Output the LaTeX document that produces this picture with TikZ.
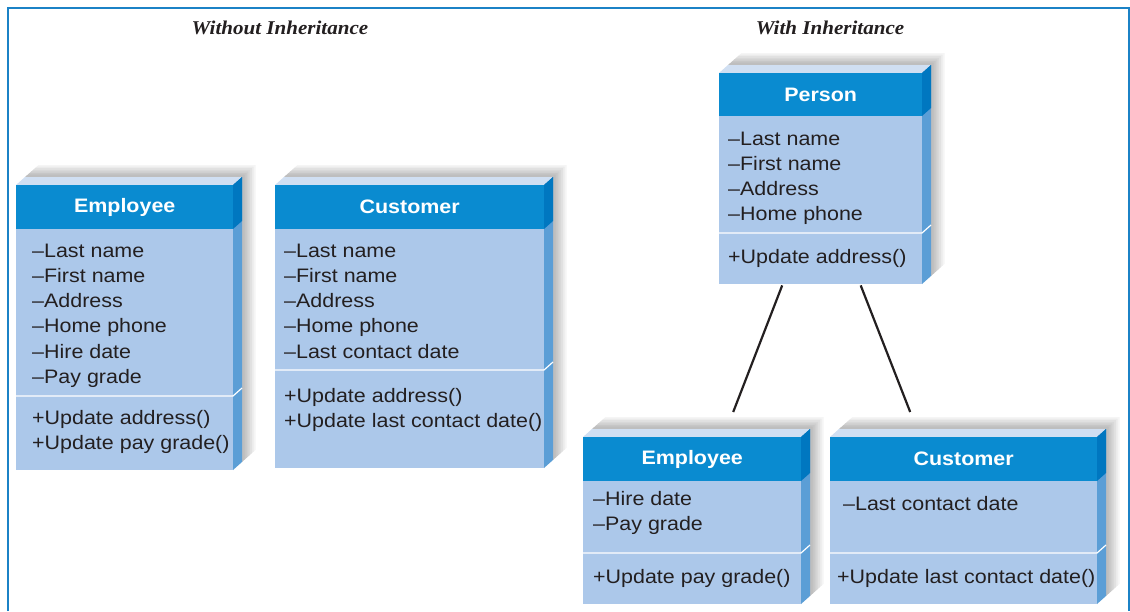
\documentclass[tikz,border=0pt]{standalone}
\usepackage{fontspec}
\setmainfont[FakeStretch=1.1]{Liberation Sans}
\newfontfamily\titlefont[FakeStretch=1.08]{Liberation Serif}
\usetikzlibrary{calc}
\definecolor{hdr}{HTML}{0A8BD0}
\definecolor{hdrside}{HTML}{0077C0}
\definecolor{bodyc}{HTML}{ACC8EA}
\definecolor{bodyside}{HTML}{5B9ED6}
\definecolor{topface}{HTML}{D0DFF2}
\definecolor{framec}{HTML}{1B82C6}
\definecolor{ink}{HTML}{231F20}
\newcommand\umlbox[8]{%
  \foreach \k in {2.5,2.3,2.1,1.9,1.7,1.5,1.3} {
    \fill[black, opacity=0.04] (#2+9,#3-8) -- (#2+9*\k,#3-8*\k) -- (#4+9*\k,#3-8*\k) -- (#4+9*\k,#7-8*\k) -- (#4+9,#7-8) -- cycle;
  }
  \fill[topface] (#2,#3) -- (#2+9,#3-8) -- (#4+9,#3-8) -- (#4,#3) -- cycle;
  \fill[bodyside] (#4,#3) -- (#4+9,#3-8) -- (#4+9,#7-8) -- (#4,#7) -- cycle;
  \fill[hdrside] (#4,#3) -- (#4+9,#3-8) -- (#4+9,#5-8) -- (#4,#5) -- cycle;
  \node[hdrbox, minimum width={(#4-#2)*1pt}, minimum height={(#5-#3)*1pt}] (#1-h) at (#2,#3) {#8};
  \node[bodybox, minimum width={(#4-#2)*1pt}, minimum height={(#7-#5)*1pt}] (#1) at (#2,#5) {};
  \draw[white, line width=1.2pt] (#2,#6) -- (#4,#6) -- (#4+9,#6-8);
}
\begin{document}
\begin{tikzpicture}[x=1pt,y=-1pt,
  font=\fontsize{19.5}{24}\selectfont,
  hdrbox/.style={fill=hdr, text=white, font=\fontsize{19.5}{24}\selectfont\bfseries, inner sep=0pt, anchor=north west},
  bodybox/.style={fill=bodyc, inner sep=0pt, anchor=north west},
  txt/.style={text=ink, inner sep=0pt, anchor=base west},
  ttl/.style={text=ink, inner sep=0pt, font=\titlefont\fontsize{19.5}{22}\selectfont\bfseries\itshape},
  conn/.style={draw=ink, line width=2.2pt}]
\useasboundingbox (0,0) rectangle (1130,611);
\fill[white] (0,0) rectangle (1130,611);
\draw[framec, line width=1.6pt] (8,611) -- (8,8) -- (1129,8) -- (1129,611);

\node[ttl] (t1) at (280,28) {Without Inheritance};
\node[ttl] (t2) at (830,28) {With Inheritance};

\umlbox{emp1}{16}{185}{233}{229}{396}{470}{Employee}
\umlbox{cus1}{275}{185}{544}{229}{370}{468}{Customer}
\umlbox{person}{719}{73}{922}{116}{233}{284}{Person}
\umlbox{emp2}{583}{437}{801}{481}{553}{604}{Employee}
\umlbox{cus2}{830}{437}{1097}{481}{553}{604}{Customer}

% left Employee
\foreach \t [count=\i from 0] in {\textendash Last name,\textendash First name,\textendash Address,\textendash Home phone,\textendash Hire date,\textendash Pay grade}
  \node[txt] (ea\i) at (32,257+25.3*\i) {\t};
\foreach \t [count=\i from 0] in {+Update address(),+Update pay grade()}
  \node[txt] (em\i) at (32,424+25.5*\i) {\t};
% left Customer
\foreach \t [count=\i from 0] in {\textendash Last name,\textendash First name,\textendash Address,\textendash Home phone,\textendash Last contact date}
  \node[txt] (ca\i) at (284,257+25.3*\i) {\t};
\foreach \t [count=\i from 0] in {+Update address(),+Update last contact date()}
  \node[txt] (cm\i) at (284,402+25.3*\i) {\t};
% Person
\foreach \t [count=\i from 0] in {\textendash Last name,\textendash First name,\textendash Address,\textendash Home phone}
  \node[txt] (pa\i) at (728,145+25.3*\i) {\t};
\node[txt] (pm0) at (728,263) {+Update address()};
% right Employee
\node[txt] (e2a0) at (593,505) {\textendash Hire date};
\node[txt] (e2a1) at (593,530) {\textendash Pay grade};
\node[txt] (e2m0) at (593,583) {+Update pay grade()};
% right Customer
\node[txt] (c2a0) at (843,510) {\textendash Last contact date};
\node[txt] (c2m0) at (837,583) {+Update last contact date()};

% connectors
\coordinate (pl) at ($(person.south)+(-38.5,1)$);
\coordinate (pr) at ($(person.south)+(40,1)$);
\coordinate (el) at ($(emp2-h.north)+(41,-25)$);
\coordinate (cr) at ($(cus2-h.north)+(-53.5,-25)$);
\draw[conn] (pl) -- (el);
\draw[conn] (pr) -- (cr);
\end{tikzpicture}
\end{document}
